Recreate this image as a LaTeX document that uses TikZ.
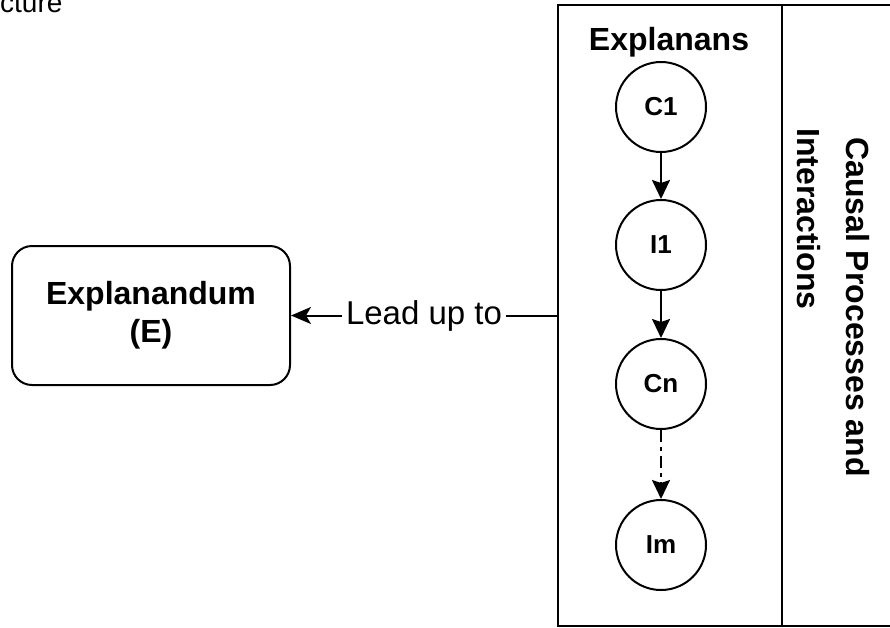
\documentclass[tikz,border=0pt]{standalone}
\usepackage{fontspec}
\setmainfont{Liberation Sans}
\usetikzlibrary{arrows.meta}
\begin{document}
\begin{tikzpicture}[x=1pt,y=-1pt,
  frame/.style={draw, line width=2pt, inner sep=0pt},
  state/.style={circle, draw, line width=2pt, minimum size=90pt, inner sep=0pt,
    font=\fontsize{26}{30}\selectfont\bfseries},
  heading/.style={inner sep=0pt, font=\fontsize{32}{38}\selectfont\bfseries},
  conn/.style={line width=2pt, -{Stealth[length=19pt,width=18pt,inset=3pt]}},
  dashconn/.style={conn, dash pattern=on 12pt off 5pt on 4pt off 5pt}]
\useasboundingbox (0,0) rectangle (890,627);
\clip (0,0) rectangle (890,627);

% fragment of a title cut off by the top edge
\node[anchor=base west, inner sep=0pt, font=\fontsize{28}{34}\selectfont] (frag) at (0,12) {cture};

% the explanans column and the side column
\node[frame, minimum width=224pt, minimum height=621pt, anchor=north west] (col) at (557,4) {};
\node[frame, minimum width=160pt, minimum height=621pt, anchor=north west] (side) at (781,4) {};

\node[heading, anchor=base] (title) at (669,50) {Explanans};

% chain of causes and interactions
\node[state] (c1) at (661,107) {C1};
\node[state] (i1) at (661,245) {I1};
\node[state] (cn) at (661,384) {Cn};
\node[state] (im) at (661,545) {Im};

\draw[conn] (c1) -- (i1);
\draw[conn] (i1) -- (cn);
\draw[dashconn] (cn) -- (im);

% side label, read top to bottom
\node[heading, rotate=-90, anchor=base west] (cp1) at (846,137) {Causal Processes and};
\node[heading, rotate=-90, anchor=base west] (cp2) at (797,128) {Interactions};

% the explanandum
\node[frame, rounded corners=20pt, minimum width=278pt, minimum height=139pt,
  align=center, font=\fontsize{32}{38}\selectfont\bfseries] (E) at (151,315.5)
  {Explanandum\\(E)};

\coordinate (src) at (col.west |- E.east);
\draw[line width=2pt, -{Stealth[length=20pt,width=17pt,inset=5pt]}] (src) --
  node[fill=white, inner xsep=4pt, inner ysep=0pt,
  font=\fontsize{33}{38}\selectfont] (lead) {Lead up to} (E.east);
\end{tikzpicture}
\end{document}
